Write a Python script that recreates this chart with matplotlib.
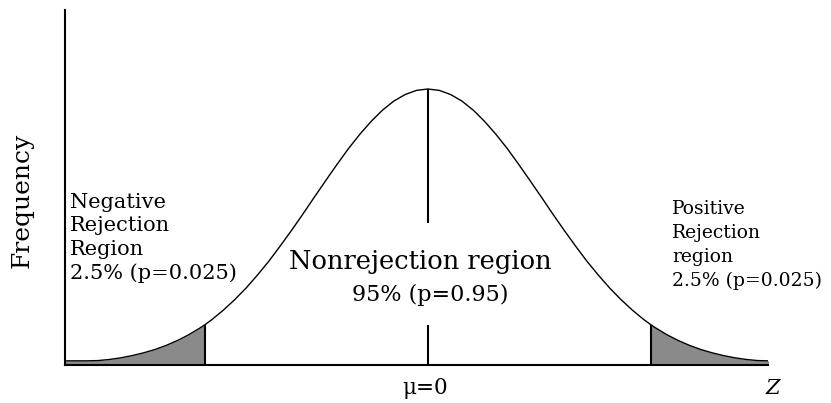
import numpy as np
import matplotlib
matplotlib.use("Agg")
import matplotlib.pyplot as plt

# z positions and relative curve height (peak = 1)
z = [-3.2, -3.1, -3.0, -2.9, -2.8, -2.7, -2.6, -2.5, -2.4, -2.3, -2.2, -2.1,
     -2.0, -1.96, -1.9, -1.8, -1.7, -1.6, -1.5, -1.4, -1.3, -1.2, -1.1, -1.0,
     -0.9, -0.8, -0.7, -0.6, -0.5, -0.4, -0.3, -0.2, -0.1, 0.0,
     0.1, 0.2, 0.3, 0.4, 0.5, 0.6, 0.7, 0.8, 0.9, 1.0, 1.1, 1.2, 1.3, 1.4,
     1.5, 1.6, 1.7, 1.8, 1.9, 1.96, 2.0, 2.1, 2.2, 2.3, 2.4, 2.5, 2.6, 2.7,
     2.8, 2.9, 3.0]
h = [0.015, 0.015, 0.015, 0.016, 0.020, 0.026, 0.034, 0.044, 0.056, 0.071,
     0.089, 0.110, 0.135, 0.146, 0.164, 0.198, 0.236, 0.278, 0.325, 0.375,
     0.430, 0.487, 0.546, 0.607, 0.667, 0.726, 0.783, 0.835, 0.882, 0.923,
     0.956, 0.980, 0.995, 1.000,
     0.995, 0.980, 0.956, 0.923, 0.882, 0.835, 0.783, 0.726, 0.667, 0.607,
     0.546, 0.487, 0.430, 0.375, 0.325, 0.278, 0.236, 0.198, 0.164, 0.146,
     0.135, 0.110, 0.089, 0.071, 0.056, 0.044, 0.034, 0.026, 0.020, 0.016,
     0.015]
z_crit = 1.96
h_crit = 0.146

z = np.array(z)
h = np.array(h)

fig = plt.figure(figsize=(8.31, 4.03), dpi=100)
ax = fig.add_axes([65 / 831, 38 / 403, 703 / 831, 355 / 403])
ax.set_xlim(-3.19, 2.99)
ax.set_ylim(0, 355 / 276)

ax.plot(z, h, color="black", lw=1)

left = z <= -z_crit
right = z >= z_crit
ax.fill_between(z[left], 0, h[left], color="#8a8a8a", lw=0)
ax.fill_between(z[right], 0, h[right], color="#8a8a8a", lw=0)
ax.vlines([-z_crit, z_crit], 0, h_crit, color="black", lw=1.5)

# mean line, broken by the centre label
ax.vlines(0, 1 - 134 / 276, 1, color="black", lw=1.5)
ax.vlines(0, 0, 40 / 276, color="black", lw=1.5)

for s in ["top", "right"]:
    ax.spines[s].set_visible(False)
ax.spines["left"].set_linewidth(1.5)
ax.spines["bottom"].set_linewidth(1.5)
ax.set_xticks([])
ax.set_yticks([])

serif = "DejaVu Serif"
fig.text(22 / 831, 1 - 200 / 403, "Frequency", rotation=90, ha="center",
         va="center", fontsize=18, family=serif)
fig.text(425 / 831, 1 - 388 / 403, "μ=0", ha="center", va="center",
         fontsize=15.5, family=serif)
fig.text(773 / 831, 1 - 388 / 403, "Z", ha="center", va="center",
         fontsize=15, family=serif, style="italic")

fig.text(70 / 831, 1 - 238 / 403,
         "Negative\nRejection\nRegion\n2.5% (p=0.025)",
         ha="left", va="center", fontsize=15, family=serif, linespacing=1.3)
fig.text(672 / 831, 1 - 245 / 403,
         "Positive\nRejection\nregion\n2.5% (p=0.025)",
         ha="left", va="center", fontsize=13.5, family=serif, linespacing=1.4)
fig.text(420 / 831, 1 - 261 / 403, "Nonrejection region", ha="center",
         va="center", fontsize=18.5, family=serif)
fig.text(430 / 831, 1 - 295 / 403, "95% (p=0.95)", ha="center",
         va="center", fontsize=16, family=serif)

fig.savefig("out.png", dpi=100)
